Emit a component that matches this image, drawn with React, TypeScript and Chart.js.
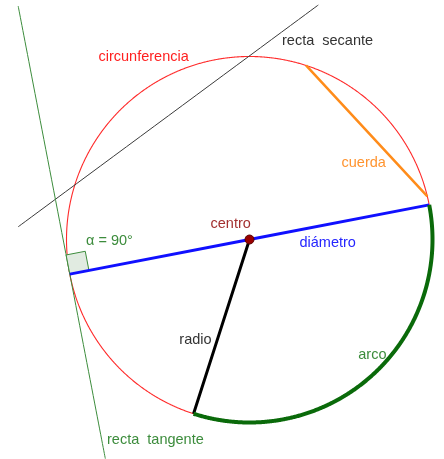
import React, { useEffect, useRef } from "react";
import { Chart, registerables } from "chart.js";

Chart.register(...registerables);

// Geometry (in picture units, y grows downward)
const CENTER = [249.5, 239.5];
const RADIUS = 183;
const DIAMETER_ANGLE = -10.9; // degrees, right end of the diameter
const RADIUS_ANGLE = 107.8; // degrees, end of the drawn radius
const ARC_ANGLES = [-10.9, 107.8];
const CHORD_ANGLES = [-72, -13.6];
const SECANT_X = [18.3, 318.3];
const SECANT_Y = [226.7, 5];
const TANGENT_EXTENT = [-273, 188];
const RIGHT_ANGLE_SIZE = 19.5;

// Text labels
const LABELS = ["circunferencia", "recta  secante", "cuerda", "centro", "diámetro", "α = 90°", "radio", "arco", "recta  tangente"];
const LABEL_X = [98.5, 282, 341.5, 210.5, 299.5, 86, 179.3, 358.3, 107];
const LABEL_Y = [61, 45.3, 167.3, 228, 247.3, 244.7, 344, 359, 444];
const LABEL_COLORS = ["#ff1f1f", "#333333", "#ff9430", "#a33030", "#2525ff", "#3c8c3c", "#333333", "#3c8c3c", "#3c8c3c"];

const rad = (d: number) => (d * Math.PI) / 180;
const onCircle = (deg: number) => ({
  x: CENTER[0] + RADIUS * Math.cos(rad(deg)),
  y: CENTER[1] + RADIUS * Math.sin(rad(deg)),
});

function arcPoints(a0: number, a1: number) {
  const pts: { x: number; y: number }[] = [];
  const n = Math.max(2, Math.ceil(Math.abs(a1 - a0) * 2));
  for (let i = 0; i <= n; i++) pts.push(onCircle(a0 + ((a1 - a0) * i) / n));
  return pts;
}

export default function App() {
  const ref = useRef<HTMLCanvasElement | null>(null);
  useEffect(() => {
    if (!ref.current) return;
    const left = onCircle(DIAMETER_ANGLE + 180);
    const right = onCircle(DIAMETER_ANGLE);
    const radial = { x: Math.cos(rad(DIAMETER_ANGLE + 180)), y: Math.sin(rad(DIAMETER_ANGLE + 180)) };
    // tangent direction pointing downward
    const tdir = { x: radial.y, y: -radial.x };
    const tangent = TANGENT_EXTENT.map((t) => ({ x: left.x + tdir.x * t, y: left.y + tdir.y * t }));
    const inward = { x: -radial.x, y: -radial.y };
    const s = RIGHT_ANGLE_SIZE;
    const up = { x: -tdir.x, y: -tdir.y };
    const square = [
      left,
      { x: left.x + inward.x * s, y: left.y + inward.y * s },
      { x: left.x + inward.x * s + up.x * s, y: left.y + inward.y * s + up.y * s },
      { x: left.x + up.x * s, y: left.y + up.y * s },
      left,
    ];

    const labelPlugin = {
      id: "labels",
      afterDatasetsDraw(chart: any) {
        const ctx = chart.ctx;
        const xs = chart.scales.x;
        const ys = chart.scales.y;
        ctx.save();
        ctx.font = '14.5px "Liberation Sans", Arial, sans-serif';
        ctx.textAlign = "left";
        ctx.textBaseline = "alphabetic";
        LABELS.forEach((t, i) => {
          ctx.fillStyle = LABEL_COLORS[i];
          ctx.fillText(t, xs.getPixelForValue(LABEL_X[i]), ys.getPixelForValue(LABEL_Y[i]));
        });
        ctx.restore();
      },
    };

    // a tiny tension disables Chart.js's fast-path (which merges points sharing an x pixel)
    const line = (data: any[], color: string, width: number, extra: any = {}) => ({
      data,
      borderColor: color,
      borderWidth: width,
      pointRadius: 0,
      showLine: true,
      tension: 0.001,
      fill: false,
      ...extra,
    });

    // listed bottom-to-top; Chart.js draws lower `order` on top, so set order descending
    const layers: any[] = [
      line(arcPoints(0, 360), "#ff2a2a", 1.1),
      line(SECANT_X.map((x, i) => ({ x, y: SECANT_Y[i] })), "#3a3a3a", 1),
      line(tangent, "#3c8c3c", 1),
      line([onCircle(CHORD_ANGLES[0]), onCircle(CHORD_ANGLES[1])], "#ff8c1a", 2.5),
      line(square, "#3c8c3c", 1, { fill: "shape", backgroundColor: "#e1ebe1", tension: 0 }),
      line([left, right], "#1010ff", 3),
      line([{ x: CENTER[0], y: CENTER[1] }, onCircle(RADIUS_ANGLE)], "#000000", 3),
      line(arcPoints(ARC_ANGLES[0], ARC_ANGLES[1]), "#0a6a0a", 4, { borderCapStyle: "butt" }),
      {
        data: [{ x: CENTER[0], y: CENTER[1] }],
        pointRadius: 4.5,
        backgroundColor: "#9a0000",
        borderColor: "#5a0000",
        borderWidth: 1,
        showLine: false,
      },
    ];
    layers.forEach((d, i) => (d.order = layers.length - i));

    const chart = new Chart(ref.current, {
      type: "scatter",
      data: { datasets: layers },
      options: {
        animation: false,
        responsive: false,
        events: [],
        layout: { padding: 0, autoPadding: false },
        plugins: { legend: { display: false }, tooltip: { enabled: false } },
        scales: {
          x: { type: "linear", min: 0, max: 444, display: false },
          y: { type: "linear", min: 0, max: 459, reverse: true, display: false },
        },
      },
      plugins: [labelPlugin],
    } as any);
    return () => chart.destroy();
  }, []);

  return (
    <div style={{ position: "absolute", left: 0, top: 0, width: 444, height: 459, background: "#ffffff" }}>
      <canvas ref={ref} width={444} height={459} style={{ display: "block" }} />
    </div>
  );
}
